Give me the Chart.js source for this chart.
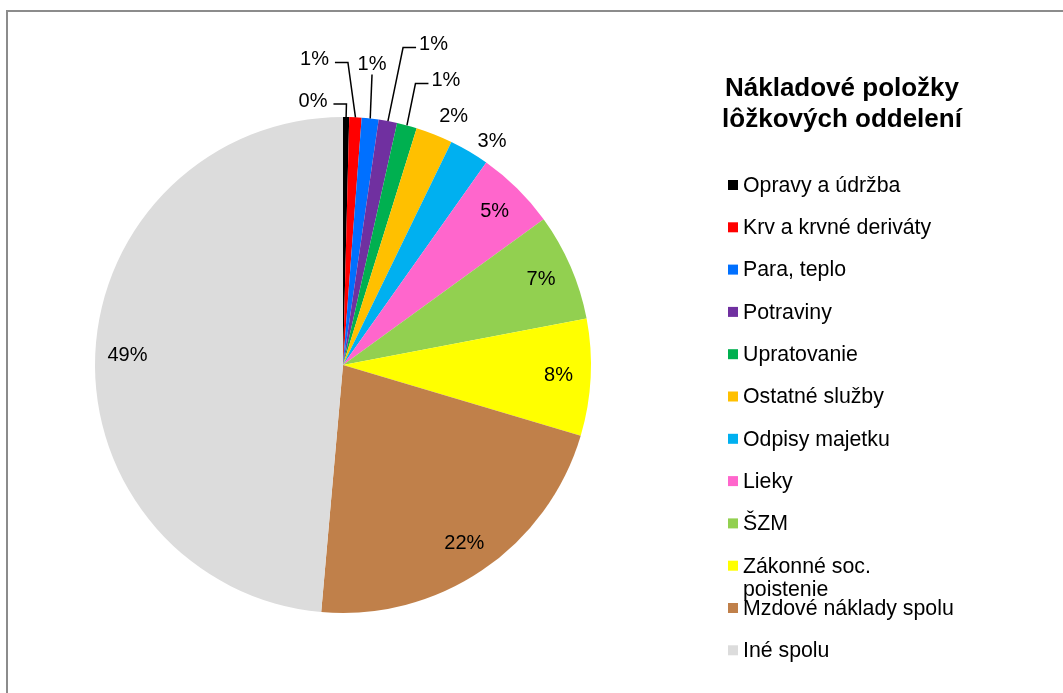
<!DOCTYPE html>
<html>
<head>
<meta charset="utf-8">
<script src="https://cdn.jsdelivr.net/npm/chart.js@4/dist/chart.umd.min.js"></script>
<style>
  html, body { margin: 0; padding: 0; background: #ffffff; }
  #wrap { position: relative; width: 1063px; height: 693px; }
</style>
</head>
<body>
<div id="wrap"><canvas id="c" width="1063" height="693"></canvas></div>
<script>
const chartTitle = ['Nákladové položky', 'lôžkových oddelení'];
const categories = [
  'Opravy a údržba', 'Krv a krvné deriváty', 'Para, teplo', 'Potraviny',
  'Upratovanie', 'Ostatné služby', 'Odpisy majetku', 'Lieky', 'ŠZM',
  'Zákonné soc. poistenie', 'Mzdové náklady spolu', 'Iné spolu'
];
const shares = [0.4, 0.8, 1.1, 1.2, 1.3, 2.4, 2.6, 5.2, 7.0, 7.6, 21.8, 48.6];
const sliceColors = [
  '#000000', '#FF0000', '#0070FF', '#7030A0', '#00B050', '#FFC000',
  '#00B0F0', '#FF66CC', '#92D050', '#FFFF00', '#C0804A', '#DCDCDC'
];

// label layout for the small slices (relative to radius), leader style
const smallLabelLayout = {
  0: { dx: -0.121, dy: -1.062, leader: 'right' },
  1: { dx: -0.115, dy: -1.230, leader: 'right' },
  2: { dx: 0.117, dy: -1.212, leader: 'bottom' },
  3: { dx: 0.365, dy: -1.292, leader: 'left' },
  4: { dx: 0.415, dy: -1.147, leader: 'left' },
  5: { dx: 0.446, dy: -1.002, leader: null },
  6: { dx: 0.601, dy: -0.901, leader: null }
};

const FONT = '"Liberation Sans", Arial, sans-serif';

const framePlugin = {
  id: 'frame',
  beforeDraw(chart) {
    const ctx = chart.ctx;
    ctx.save();
    ctx.fillStyle = '#ffffff';
    ctx.fillRect(0, 0, chart.width, chart.height);
    ctx.strokeStyle = '#8c8c8c';
    ctx.lineWidth = 2;
    ctx.strokeRect(7, 11, chart.width + 20, chart.height + 20);
    ctx.restore();
  }
};

const labelPlugin = {
  id: 'pctLabels',
  afterDatasetsDraw(chart) {
    const ctx = chart.ctx;
    const meta = chart.getDatasetMeta(0);
    const data = chart.data.datasets[0].data;
    const total = data.reduce((a, b) => a + b, 0);
    ctx.save();
    ctx.font = '20px ' + FONT;
    ctx.fillStyle = '#000000';
    ctx.strokeStyle = '#000000';
    ctx.lineWidth = 1.5;
    ctx.textAlign = 'center';
    ctx.textBaseline = 'middle';
    meta.data.forEach((arc, i) => {
      const p = arc.getProps(['x', 'y', 'startAngle', 'endAngle', 'outerRadius'], true);
      const mid = (p.startAngle + p.endAngle) / 2;
      const r = p.outerRadius;
      const txt = Math.round(data[i] / total * 100) + '%';
      const lay = smallLabelLayout[i];
      if (!lay) {
        const lr = r * 0.87;
        ctx.fillText(txt, p.x + Math.cos(mid) * lr, p.y + Math.sin(mid) * lr);
        return;
      }
      const lx = p.x + lay.dx * r;
      const ly = p.y + lay.dy * r;
      ctx.fillText(txt, lx, ly);
      if (lay.leader) {
        const ax = p.x + Math.cos(mid) * r;
        const ay = p.y + Math.sin(mid) * r;
        const hw = ctx.measureText(txt).width / 2;
        ctx.beginPath();
        if (lay.leader === 'right') {
          const sx = lx + hw + 6, sy = ly + 2.5;
          ctx.moveTo(sx, sy);
          ctx.lineTo(sx + 13, sy);
          ctx.lineTo(ax, ay);
        } else if (lay.leader === 'left') {
          const sx = lx - hw - 3, sy = ly + 3;
          ctx.moveTo(sx, sy);
          ctx.lineTo(sx - 13, sy);
          ctx.lineTo(ax, ay);
        } else {
          ctx.moveTo(lx, ly + 10);
          ctx.lineTo(ax, ay);
        }
        ctx.stroke();
      }
    });
    ctx.restore();
  }
};

const legendPlugin = {
  id: 'sideLegend',
  afterDraw(chart) {
    const ctx = chart.ctx;
    ctx.save();
    // title
    ctx.font = 'bold 26px ' + FONT;
    ctx.fillStyle = '#000000';
    ctx.textAlign = 'center';
    ctx.textBaseline = 'middle';
    ctx.fillText(chartTitle[0], 842, 89);
    ctx.fillText(chartTitle[1], 842, 120);
    // legend items
    ctx.font = '21.3px ' + FONT;
    ctx.textAlign = 'left';
    const labels = chart.data.labels;
    const cols = chart.data.datasets[0].backgroundColor;
    const x0 = 728, y0 = 185, step = 42.3, maxW = 216;
    labels.forEach((lab, i) => {
      const y = y0 + i * step;
      ctx.fillStyle = cols[i];
      ctx.fillRect(x0, y - 5, 10, 10);
      ctx.fillStyle = '#000000';
      // simple word wrap
      const words = lab.split(' ');
      const lines = [];
      let cur = '';
      words.forEach(w => {
        const t = cur ? cur + ' ' + w : w;
        if (ctx.measureText(t).width > maxW && cur) { lines.push(cur); cur = w; }
        else cur = t;
      });
      lines.push(cur);
      lines.forEach((ln, k) => ctx.fillText(ln, x0 + 15, y + 1 + k * 23));
    });
    ctx.restore();
  }
};

new Chart(document.getElementById('c'), {
  type: 'pie',
  data: {
    labels: categories,
    datasets: [{
      data: shares,
      backgroundColor: sliceColors,
      borderWidth: 0
    }]
  },
  options: {
    responsive: false,
    animation: false,
    devicePixelRatio: 1,
    layout: { padding: { left: 95, top: 117, right: 472, bottom: 80 } },
    plugins: {
      legend: { display: false },
      title: { display: false },
      tooltip: { enabled: false }
    }
  },
  plugins: [framePlugin, labelPlugin, legendPlugin]
});
</script>
</body>
</html>
